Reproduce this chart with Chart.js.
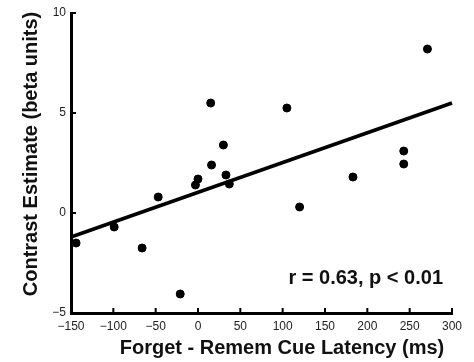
<!DOCTYPE html>
<html>
<head>
<meta charset="utf-8">
<script src="https://cdn.jsdelivr.net/npm/chart.js@4"></script>
<style>
    html, body { margin: 0; padding: 0; background: #fff; }
    #wrap { width: 474px; height: 362px; }
</style>
</head>
<body>
<div id="wrap"><canvas id="scatterCanvas"></canvas></div>
<script>
// latency difference (ms) and contrast estimate per subject
const latency = [-144, -99, -66, -47, -21, -3, 0, 15, 16, 30, 33, 37, 105, 120, 183, 243, 243, 271];
const contrast = [-1.5, -0.7, -1.75, 0.8, -4.05, 1.4, 1.7, 5.5, 2.4, 3.4, 1.9, 1.45, 5.25, 0.3, 1.8, 3.1, 2.45, 8.2];

// least squares fit endpoints
const fitX = [-150, 300];
const fitY = [-1.2, 5.5];

const xTicks = [-150, -100, -50, 0, 50, 100, 150, 200, 250, 300];
const yTicks = [-5, 0, 5, 10];

const xTitle = 'Forget - Remem Cue Latency (ms)';
const yTitle = 'Contrast Estimate (beta units)';
const statText = 'r = 0.63, p < 0.01';

const minus = v => String(v).replace('-', '\u2212');

// draws inward tick marks, axis titles and the stats label
const extrasPlugin = {
    id: 'extras',
    afterDraw(chart) {
        const c = chart.ctx;
        const a = chart.chartArea;
        const xs = chart.scales.x;
        const ys = chart.scales.y;
        c.save();
        c.strokeStyle = '#000';
        c.lineWidth = 2;
        c.beginPath();
        xTicks.forEach(t => {
            const px = xs.getPixelForValue(t);
            c.moveTo(px, a.bottom);
            c.lineTo(px, a.bottom - 5);
        });
        yTicks.forEach(t => {
            const py = ys.getPixelForValue(t);
            c.moveTo(a.left, py);
            c.lineTo(a.left + 5, py);
        });
        c.stroke();

        c.fillStyle = '#111';
        c.font = 'bold 20px "Liberation Sans", Arial, sans-serif';
        c.textAlign = 'center';
        c.textBaseline = 'alphabetic';
        c.fillText(xTitle, 282, 354);

        c.save();
        c.translate(37, 154);
        c.rotate(-Math.PI / 2);
        c.fillText(yTitle, 0, 0);
        c.restore();

        c.textAlign = 'right';
        c.fillText(statText, 443, 284);
        c.restore();
    }
};

const ctx = document.getElementById('scatterCanvas');
new Chart(ctx, {
    type: 'scatter',
    data: {
        datasets: [{
            data: latency.map((x, i) => ({x: x, y: contrast[i]})),
            backgroundColor: '#000',
            borderColor: '#000',
            pointRadius: 4,
            pointHoverRadius: 4,
            clip: false
        }, {
            data: fitX.map((x, i) => ({x: x, y: fitY[i]})),
            showLine: true,
            borderColor: '#000',
            borderWidth: 3.5,
            pointRadius: 0,
            fill: false,
            clip: false
        }]
    },
    options: {
        responsive: true,
        maintainAspectRatio: false,
        animation: false,
        layout: {
            padding: {top: 13, right: 22, left: 0, bottom: 0}
        },
        plugins: {
            legend: {display: false},
            tooltip: {enabled: false}
        },
        scales: {
            x: {
                type: 'linear',
                min: -150,
                max: 300,
                afterFit: s => { s.height = 49; },
                afterBuildTicks: s => { s.ticks = xTicks.map(v => ({value: v})); },
                grid: {display: false, drawTicks: false},
                border: {display: true, color: '#000', width: 3},
                ticks: {
                    padding: 6,
                    color: '#222',
                    font: {family: '"Liberation Sans", Arial, sans-serif', size: 12},
                    maxRotation: 0,
                    autoSkip: false,
                    callback: v => minus(v)
                }
            },
            y: {
                type: 'linear',
                min: -5,
                max: 10,
                afterFit: s => { s.width = 71; },
                afterBuildTicks: s => { s.ticks = yTicks.map(v => ({value: v})); },
                grid: {display: false, drawTicks: false},
                border: {display: true, color: '#000', width: 3},
                ticks: {
                    padding: 5,
                    color: '#222',
                    font: {family: '"Liberation Sans", Arial, sans-serif', size: 12},
                    autoSkip: false,
                    callback: v => minus(v)
                }
            }
        }
    },
    plugins: [extrasPlugin]
});
</script>
</body>
</html>
